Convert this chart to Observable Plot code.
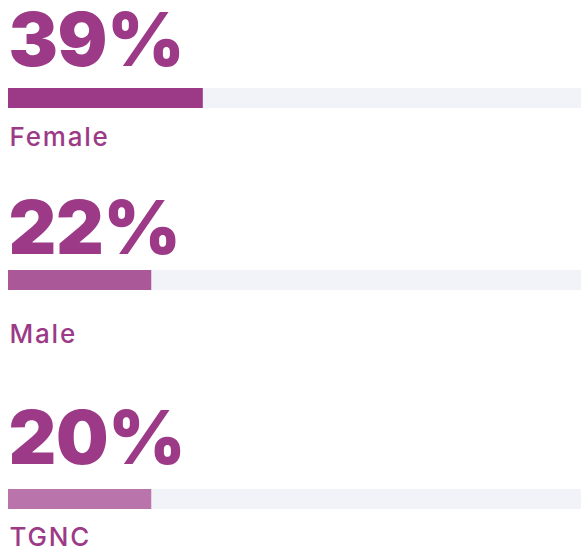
<!DOCTYPE html>
<html><head><meta charset="utf-8">
<script src="https://cdn.jsdelivr.net/npm/d3@7"></script>
<script src="https://cdn.jsdelivr.net/npm/@observablehq/plot@0.6"></script>
<style>
html,body{margin:0;padding:0;background:#fff;}
#chart svg{display:block;}
</style></head>
<body><div id="chart"></div>
<script>
// Data
const categories = ["Female", "Male", "TGNC"];
const shares = [39, 22, 20];           // printed percentages
const barLengths = [34, 25, 25];       // bar fill (% of track) as drawn
const barColors = ["#9c3a87", "#ab5898", "#b975ab"];

const textColor = "#9c3a87";
const trackColor = "#f2f3f8";

// Layout per block (styles only)
const blocks = [
  {height: 160, top: 88, numDy: -33, labelDy: 47},
  {height: 210, top: 110, numDy: -27, labelDy: 62},
  {height: 178, top: 119, numDy: -36, labelDy: 46}
];

const rows = categories.map((c, i) => ({label: c, share: shares[i], len: barLengths[i], color: barColors[i]}));
const root = document.getElementById("chart");

rows.forEach((row, i) => {
  const b = blocks[i];
  const chart = Plot.plot({
    width: 581,
    height: b.height,
    marginLeft: 8,
    marginRight: 0,
    marginTop: b.top,
    marginBottom: b.height - b.top - 20,
    x: {domain: [0, 100], axis: null},
    y: {type: "band", padding: 0, axis: null},
    marks: [
      Plot.barX([row], {x1: 0, x2: 100, y: "label", fill: trackColor}),
      Plot.barX([row], {x1: 0, x2: "len", y: "label", fill: "color"}),
      Plot.text([row], {x: 0, y: "label", text: d => d.share + "%", textAnchor: "start", lineAnchor: "bottom",
        dx: 0, dy: b.numDy, fontSize: 74, fontWeight: 900, fontFamily: "Inter, sans-serif", fill: textColor}),
      Plot.text([row], {x: 0, y: "label", text: "label", textAnchor: "start", lineAnchor: "bottom",
        dx: 1, dy: b.labelDy, fontSize: 26, fontWeight: 500, fontFamily: "Inter, sans-serif", fill: textColor})
    ]
  });
  d3.select(chart).selectAll("text")
    .filter(function() { return this.textContent === row.label; })
    .style("letter-spacing", "1.8px");
  d3.select(chart).selectAll("text")
    .filter(function() { return this.textContent === row.share + "%"; })
    .style("letter-spacing", "-0.4px");
  root.appendChild(chart);
});
</script>
</body></html>
